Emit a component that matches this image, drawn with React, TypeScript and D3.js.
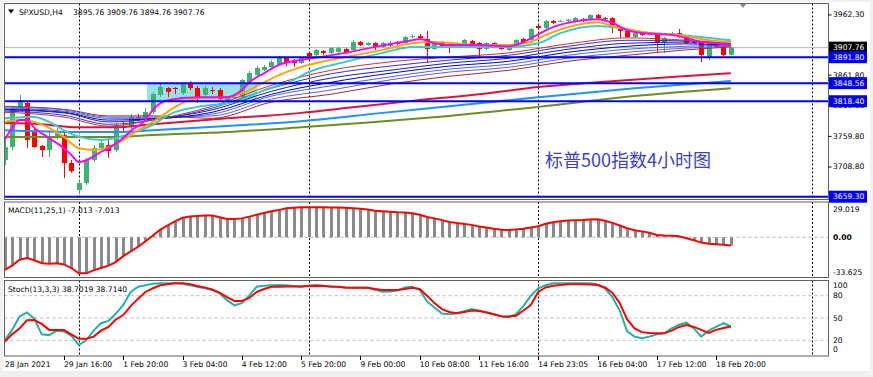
import React from "react";
import * as d3 from "d3";

// ---------------- DATA ----------------
const timeLabels = ["28 Jan 2021", "29 Jan 16:00", "1 Feb 20:00", "3 Feb 04:00", "4 Feb 12:00", "5 Feb 20:00", "9 Feb 00:00", "10 Feb 08:00", "11 Feb 16:00", "14 Feb 23:05", "16 Feb 04:00", "17 Feb 12:00", "18 Feb 20:00"];
const timeLabelBars = [0, 8, 16, 24, 32, 40, 48, 56, 64, 72, 80, 88, 96];
const separatorBars = [10, 41, 72, 109];

const opens = [
  3720.5, 3742, 3807, 3815.5, 3767, 3744, 3737, 3757, 3762, 3715.5,
  3670.5, 3682, 3720.5, 3740.5, 3745.5, 3737, 3775.5, 3775.5, 3792, 3790.5,
  3800.5, 3829, 3840.5, 3840.5, 3832, 3849, 3840.5, 3829, 3837, 3837,
  3820.5, 3823.8, 3825.5, 3850.5, 3862, 3870.5, 3875.5, 3878.8, 3890.5, 3887,
  3882, 3898.8, 3895.5, 3902, 3898.8, 3900.5, 3905.5, 3903.8, 3917, 3912,
  3915.5, 3908.8, 3910.5, 3917, 3915.5, 3925.5, 3927, 3922, 3905.5, 3917,
  3910.5, 3912, 3912, 3918.8, 3915.5, 3905.5, 3915.5, 3908.8, 3903.8, 3908.8,
  3922, 3920.5, 3943.8, 3940.5, 3952, 3951, 3952, 3950.5, 3955.5, 3953.8,
  3962, 3957, 3957, 3940.5, 3935.5, 3925.5, 3932, 3928.8, 3928.8, 3915.5,
  3928.8, 3932, 3927, 3917, 3917, 3892, 3917, 3908.8, 3895.76,
];
const highs = [
  3754, 3810.5, 3829, 3819, 3774, 3745.5, 3770.5, 3774, 3765.5, 3720.5,
  3688.8, 3724, 3745.5, 3755.5, 3754, 3782, 3784, 3797, 3797, 3807,
  3834, 3847, 3842, 3842, 3850.5, 3852, 3843.8, 3843.8, 3842, 3840.5,
  3827, 3829, 3855.5, 3868.8, 3877, 3878.8, 3887, 3893.8, 3892, 3888.8,
  3892, 3900.5, 3905.5, 3903.8, 3908.8, 3908.8, 3907, 3920.5, 3918.8, 3917,
  3917, 3917, 3918.8, 3918.8, 3927, 3930.5, 3930.5, 3935.5, 3918.8, 3918.8,
  3912, 3917, 3922, 3920.5, 3917, 3917, 3917, 3910.5, 3913.8, 3922,
  3923.8, 3940.5, 3947, 3953.8, 3953.8, 3953.8, 3955.5, 3958.8, 3957, 3963.8,
  3963.8, 3958.8, 3958.8, 3942, 3937, 3933.8, 3933.8, 3932, 3930.5, 3925.5,
  3933.8, 3938.8, 3928.8, 3918.8, 3918.8, 3917, 3918.8, 3910.5, 3909.76,
];
const lows = [
  3712, 3737, 3804, 3740.5, 3740.5, 3725.5, 3725.5, 3754, 3690.5, 3699,
  3665.5, 3679, 3717, 3737, 3724, 3734, 3765.5, 3772, 3785.5, 3787,
  3797, 3825.5, 3825.5, 3830.5, 3829, 3837, 3815.5, 3825.5, 3830.5, 3820.5,
  3819, 3822, 3823.8, 3848.8, 3860.5, 3868.8, 3873.8, 3877, 3877, 3875.5,
  3880.5, 3892, 3893.8, 3895.5, 3897, 3898.8, 3897, 3902, 3910.5, 3910.5,
  3903.8, 3907, 3908.8, 3912, 3913.8, 3923.8, 3920.5, 3882, 3903.8, 3907,
  3898.8, 3910.5, 3910.5, 3910.5, 3892, 3903.8, 3907, 3903.8, 3902, 3907,
  3913.8, 3918.8, 3937, 3938.8, 3947, 3950.5, 3950.5, 3948.8, 3950.5, 3952,
  3955.5, 3953.8, 3932, 3923.8, 3923.8, 3923.8, 3927, 3927, 3898.8, 3898.8,
  3927, 3923.8, 3913.8, 3913.8, 3883.8, 3887, 3907, 3893.8, 3894.76,
];
const closes = [
  3742, 3804, 3820.5, 3754, 3742, 3737, 3759, 3765.5, 3715.5, 3702,
  3682, 3720.5, 3740.5, 3749, 3735.5, 3779, 3774, 3792, 3790.5, 3800.5,
  3830.5, 3842, 3834, 3839, 3849, 3840.5, 3825.5, 3840.5, 3835.5, 3822,
  3825.5, 3825.5, 3853.8, 3865.5, 3873.8, 3875.5, 3883.8, 3892, 3883.8, 3882,
  3890.5, 3893.8, 3903.8, 3898.8, 3907, 3907, 3898.8, 3917, 3912, 3915.5,
  3908.8, 3915.5, 3915.5, 3913.8, 3925.5, 3927, 3923.8, 3905.5, 3917, 3908.8,
  3908.8, 3915.5, 3920.5, 3912, 3905.5, 3915.5, 3908.8, 3905.5, 3912, 3920.5,
  3915.5, 3938.8, 3940.5, 3952, 3948.8, 3952, 3954.5, 3957, 3952, 3962,
  3957, 3956, 3940.5, 3935.5, 3925.5, 3932, 3928.8, 3930.5, 3915.5, 3923.8,
  3932, 3925.5, 3915.5, 3916, 3895.5, 3915.5, 3908.8, 3895.5, 3907.76,
];

// moving averages: [bar, price]
const maMagenta: [number, number][] = [
  [0, 3754], [1, 3774], [2, 3787], [3, 3787], [4, 3774], [6, 3757], [8, 3740], [9, 3729], [10, 3717], [11, 3720],
  [13, 3734], [14, 3740], [16, 3757], [17, 3769], [19, 3787], [20, 3804], [22, 3820], [26, 3825], [30, 3825], [32, 3837],
  [33, 3850], [35, 3865], [37, 3879], [41, 3889], [46, 3899], [50, 3909], [55, 3920], [56, 3922], [58, 3915], [60, 3912],
  [64, 3912], [68, 3910], [70, 3917], [72, 3930], [74, 3942], [76, 3949], [80, 3955], [82, 3949], [84, 3937], [86, 3932],
  [90, 3929], [92, 3924], [94, 3917], [96, 3915], [98, 3912],
];
const maOrange: [number, number][] = [
  [0, 3784], [2, 3787], [4, 3784], [6, 3774], [8, 3759], [10, 3740], [12, 3737], [14, 3742], [16, 3754], [18, 3770],
  [20, 3784], [21, 3792], [23, 3809], [26, 3824], [30, 3825], [33, 3837], [35, 3850], [37, 3862], [41, 3879], [46, 3892],
  [51, 3904], [55, 3915], [58, 3917], [64, 3912], [68, 3912], [71, 3917], [73, 3929], [77, 3945], [80, 3950], [82, 3944],
  [87, 3932], [91, 3929], [95, 3920], [98, 3917],
];
const maCyan: [number, number][] = [
  [0, 3790], [4, 3792], [6, 3784], [8, 3770], [10, 3759], [13, 3754], [15, 3757], [17, 3765], [20, 3779], [22, 3795],
  [26, 3809], [31, 3817], [35, 3837], [39, 3854], [41, 3867], [46, 3884], [51, 3899], [55, 3909], [60, 3909], [68, 3909],
  [72, 3915], [75, 3932], [80, 3944], [82, 3942], [87, 3932], [91, 3929], [98, 3920],
];
const maCrimson: [number, number][] = [
  [0, 3782], [5, 3780], [10, 3775], [15, 3775], [20, 3780], [25, 3785], [30, 3790], [35, 3794], [40, 3799], [46, 3807],
  [55, 3819], [64, 3830], [72, 3842], [80, 3850], [90, 3859], [98, 3865],
];
const maBlue: [number, number][] = [
  [0, 3770], [10, 3767], [15, 3767], [20, 3770], [30, 3777], [40, 3785], [51, 3799], [60, 3810], [72, 3825], [85, 3840], [98, 3852],
];
const maOlive: [number, number][] = [
  [0, 3759], [10, 3759], [15, 3759], [20, 3762], [30, 3767], [40, 3775], [50, 3784], [60, 3794], [72, 3809], [85, 3827], [98, 3840],
];

const ribbonBars = [0, 8, 14, 20, 28, 36, 44, 52, 60, 68, 76, 84, 92, 98];
const ribbon1 = [3800, 3792, 3777, 3787, 3810, 3845, 3870, 3884, 3892, 3899, 3914, 3924, 3920, 3915];
const ribbon2 = [3802, 3795, 3780, 3787, 3807, 3840, 3864, 3877, 3887, 3895, 3910, 3920, 3919, 3915];
const ribbon3 = [3804, 3799, 3784, 3789, 3804, 3835, 3857, 3870, 3882, 3890, 3905, 3915, 3917, 3914];
const ribbon4 = [3805, 3800, 3787, 3789, 3800, 3830, 3850, 3865, 3877, 3885, 3900, 3910, 3914, 3912];
const ribbon5 = [3807, 3802, 3790, 3790, 3797, 3827, 3844, 3859, 3872, 3880, 3895, 3905, 3910, 3912];
const ribbon6 = [3809, 3804, 3792, 3792, 3794, 3822, 3837, 3854, 3867, 3875, 3890, 3900, 3907, 3910];
const ribbon7 = [3810, 3805, 3794, 3794, 3790, 3817, 3830, 3847, 3860, 3870, 3885, 3895, 3904, 3909];

const hLevels = [3891.8, 3848.56, 3818.4, 3659.3];
const bidPrice = 3907.76;
const zoneBars = [19.2, 34.05];
const zonePrices = [3818.4, 3848.56];
const priceTicks = [3962.3, 3861.8, 3810.8, 3759.8, 3708.8];

const macd = [
  -27.6, -24, -19, -17.5, -19.5, -22, -22.5, -22, -23, -26,
  -30.5, -30.5, -28, -26, -24, -21, -16, -12, -8, -3.5,
  1.5, 6.5, 10, 13.5, 16.5, 17.5, 18, 18.5, 18.5, 17,
  15.5, 15.5, 16, 17.5, 19, 20.5, 22, 23, 24.5, 25,
  25.5, 25.4, 25.4, 25.4, 25.3, 25.2, 25, 24.6, 24.2, 23.5,
  22.5, 22, 21.6, 21.2, 21, 20.4, 19, 17.2, 16, 14.5,
  13, 12, 11.3, 10.5, 9.2, 8.3, 7.2, 6.3, 6.2, 6.5,
  7.2, 8.2, 9.3, 11.5, 12.8, 13.5, 14.3, 14.5, 14.6, 15,
  15.2, 14, 12.2, 10, 7.6, 6, 5, 3.8, 2, 1.5,
  1.3, 0.8, -0.8, -2.5, -4.5, -5.4, -5.8, -6.4, -7.013,
];
const stochK = [
  20, 34, 52, 57.6, 49, 28, 27, 33, 32, 26,
  13.7, 20, 33, 43, 46, 56, 67.5, 85, 92, 94,
  96, 96.6, 96.6, 96.6, 96, 94, 92, 90, 87.6, 83,
  74, 67, 70, 80, 92, 93.4, 94, 94.4, 94, 93,
  92, 93.5, 94.4, 93.5, 92, 91.5, 90.7, 90.7, 90.7, 90.5,
  88, 85.3, 85.5, 87, 91, 92, 88, 72, 64, 56,
  55, 56.3, 59, 62, 60, 57, 55, 52, 51, 55,
  66, 80, 90, 94, 96.6, 96.6, 96.6, 96.6, 96.6, 96.6,
  95, 90, 78, 60, 32, 25, 22.7, 25, 28, 29.4,
  36, 41, 43.7, 36, 25, 33, 38, 43, 38.7,
];
const stochD = [
  18, 28, 36, 47, 47.3, 42, 34, 34, 34, 28,
  22, 22, 25, 33, 38, 48, 54, 66, 76, 85,
  90, 94, 95.5, 96.6, 96.6, 95.5, 93, 91, 88.5, 84,
  78, 73, 73, 77, 85, 89, 92, 92, 92.5, 92.5,
  92.5, 93, 93.4, 93, 92.5, 92, 91, 90.7, 90.7, 90.7,
  89, 87.6, 87.6, 87.6, 89, 90.7, 89, 80, 70, 62,
  58, 56.3, 58, 60, 59.5, 57.6, 55, 52.5, 52, 53,
  60, 67.5, 85, 91, 93.4, 94.5, 95.3, 95.3, 95.3, 95,
  94.4, 91, 84, 70, 48, 36, 31, 30, 29.5, 29.4,
  33, 38, 40.6, 38, 34, 30, 34, 36.5, 38.7,
];
const stochLevels = [80, 50, 20];

// ---------------- CHART ----------------
const FONT = "DejaVu Sans";
const FS = 7.6;
const LEFT = 4.5;
const RIGHT = 828.5;
const MAIN = [3.5, 199.5];
const MACDP = [202, 277.5];
const STOCHP = [280.5, 356];

export default function App() {
  const x = d3.scaleLinear().domain([0, 98]).range([4.7, 730.9]);
  const yMain = d3.scaleLinear().domain([3653.8, 3982.13]).range([200, 3]);
  const yMacd = d3.scaleLinear().domain([-33.625, 29.019]).range([277, 203]);
  const yStoch = d3.scaleLinear().domain([0, 100]).range([355.2, 280.8]);

  const maLine = d3
    .line<[number, number]>()
    .x((d) => x(d[0]))
    .y((d) => yMain(d[1]))
    .curve(d3.curveMonotoneX);
  const ribbonPath = (vals: number[]) => maLine(ribbonBars.map((b, i) => [b, vals[i]] as [number, number])) || "";
  const macdLine = d3
    .line<number>()
    .x((_, i) => x(i))
    .y((d) => yMacd(d));
  const stochLine = d3
    .line<number>()
    .x((_, i) => x(i))
    .y((d) => yStoch(d));

  const ribbons: { v: number[]; c: string }[] = [
    { v: ribbon7, c: "#a52a2a" },
    { v: ribbon6, c: "#6a5acd" },
    { v: ribbon5, c: "#4169e1" },
    { v: ribbon4, c: "#0000cd" },
    { v: ribbon3, c: "#1c1cb8" },
    { v: ribbon2, c: "#3030e0" },
    { v: ribbon1, c: "#c83232" },
  ];

  const sepLines = (top: number, bottom: number, key: string) =>
    separatorBars.map((b) => (
      <line
        key={key + b}
        x1={Math.round(x(b)) + 0.5}
        x2={Math.round(x(b)) + 0.5}
        y1={top}
        y2={bottom}
        stroke="#000"
        strokeWidth={1}
        strokeDasharray="2,2"
      />
    ));

  const priceBoxes = [
    { p: bidPrice, bg: "#000000" },
    { p: hLevels[0], bg: "#0000ff" },
    { p: hLevels[1], bg: "#0000ff" },
    { p: hLevels[2], bg: "#0000ff" },
    { p: hLevels[3], bg: "#0000ff" },
  ];

  return (
    <svg
      width={873}
      height={377}
      style={{ position: "absolute", left: 0, top: 0, display: "block" }}
      fontFamily={FONT}
    >
      <defs>
        <clipPath id="clipMain">
          <rect x={LEFT} y={MAIN[0]} width={RIGHT - LEFT} height={MAIN[1] - MAIN[0]} />
        </clipPath>
        <clipPath id="clipMacd">
          <rect x={LEFT} y={MACDP[0]} width={RIGHT - LEFT} height={MACDP[1] - MACDP[0]} />
        </clipPath>
        <clipPath id="clipStoch">
          <rect x={LEFT} y={STOCHP[0]} width={RIGHT - LEFT} height={STOCHP[1] - STOCHP[0]} />
        </clipPath>
      </defs>
      <rect x={0} y={0} width={873} height={377} fill="#f0f0f0" />
      <rect x={3} y={2} width={867} height={369} fill="#ffffff" />

      {/* MAIN PANEL */}
      <g clipPath="url(#clipMain)">
        <rect
          x={x(zoneBars[0])}
          y={yMain(zonePrices[1])}
          width={x(zoneBars[1]) - x(zoneBars[0])}
          height={yMain(zonePrices[0]) - yMain(zonePrices[1])}
          fill="#98e0e6"
        />
        {sepLines(MAIN[0], MAIN[1], "m")}
        <line x1={LEFT} x2={RIGHT} y1={yMain(bidPrice)} y2={yMain(bidPrice)} stroke="#b4b4b4" strokeWidth={1} />
        {opens.map((o, i) => {
          const c = closes[i];
          const up = c >= o;
          const col = up ? "#3cb371" : "#ff0000";
          const cx = Math.round(x(i));
          const top = yMain(Math.max(o, c));
          const bot = yMain(Math.min(o, c));
          return (
            <g key={"c" + i}>
              <line x1={cx + 0.5} x2={cx + 0.5} y1={yMain(highs[i])} y2={yMain(lows[i])} stroke={col} strokeWidth={1} />
              <rect x={cx - 2} y={top} width={5} height={Math.max(1, bot - top)} fill={col} />
            </g>
          );
        })}
        {ribbons.map((r, i) => (
          <path key={"r" + i} d={ribbonPath(r.v)} fill="none" stroke={r.c} strokeWidth={1} />
        ))}
        <path d={maLine(maOlive) || ""} fill="none" stroke="#6b8e23" strokeWidth={2} />
        <path d={maLine(maBlue) || ""} fill="none" stroke="#1e90ff" strokeWidth={2} />
        <path d={maLine(maCrimson) || ""} fill="none" stroke="#dc143c" strokeWidth={2} />
        <path d={maLine(maCyan) || ""} fill="none" stroke="#40c8c8" strokeWidth={2} />
        <path d={maLine(maOrange) || ""} fill="none" stroke="#ffa500" strokeWidth={2} />
        <path d={maLine(maMagenta) || ""} fill="none" stroke="#ff00ff" strokeWidth={2} />
        {hLevels.map((p) => (
          <line key={"h" + p} x1={LEFT} x2={RIGHT} y1={yMain(p)} y2={yMain(p)} stroke="#0000ff" strokeWidth={2} />
        ))}
      </g>
      {/* header */}
      <path d="M8,9.5 L14,9.5 L11,13.5 Z" fill="#000" />
      <text x={19} y={12} fontSize={FS} dominantBaseline="central" fill="#000">SPXUSD,H4</text>
      {[opens[98], highs[98], lows[98], closes[98]].map((v, i) => (
        <text key={"hv" + i} x={73 + i * 33.4} y={12} fontSize={FS} dominantBaseline="central" fill="#000">
          {v.toFixed(2)}
        </text>
      ))}
      <text x={545} y={167} fontSize={18} fill="#3c3cdc" fontFamily="Noto Sans CJK SC">
        标普500指数4小时图
      </text>
      <path d="M739,3 L747,3 L743,8 Z" fill="#8c8c8c" />

      {/* MACD PANEL */}
      <g clipPath="url(#clipMacd)">
        {sepLines(MACDP[0], MACDP[1], "d")}
        <line x1={LEFT} x2={RIGHT} y1={yMacd(0)} y2={yMacd(0)} stroke="#b0b0b0" strokeDasharray="3,3" />
        {macd.map((v, i) => {
          const cx = Math.round(x(i));
          const y0 = yMacd(0);
          const y1 = yMacd(v);
          return <rect key={"mh" + i} x={cx - 1} y={Math.min(y0, y1)} width={3} height={Math.abs(y1 - y0)} fill="#8a8a8a" />;
        })}
        <path d={macdLine(macd) || ""} fill="none" stroke="#ff0000" strokeWidth={2} />
      </g>
      <text x={8} y={210} fontSize={FS} dominantBaseline="central" fill="#000">MACD(11,25,1) -7.013 -7.013</text>

      {/* STOCH PANEL */}
      <g clipPath="url(#clipStoch)">
        {sepLines(STOCHP[0], STOCHP[1], "s")}
        {stochLevels.map((l) => (
          <line key={"sl" + l} x1={LEFT} x2={RIGHT} y1={yStoch(l)} y2={yStoch(l)} stroke="#b8b8b8" strokeDasharray="3,3" />
        ))}
        <path d={stochLine(stochK) || ""} fill="none" stroke="#20b2aa" strokeWidth={2} />
        <path d={stochLine(stochD) || ""} fill="none" stroke="#ff0000" strokeWidth={2} />
      </g>
      <text x={8} y={289} fontSize={FS} dominantBaseline="central" fill="#000">Stoch(13,3,3) 38.7019 38.7140</text>

      {/* PANEL BORDERS */}
      <rect x={LEFT} y={MAIN[0]} width={RIGHT - LEFT} height={MAIN[1] - MAIN[0]} fill="none" stroke="#606060" />
      <rect x={LEFT} y={MACDP[0]} width={RIGHT - LEFT} height={MACDP[1] - MACDP[0]} fill="none" stroke="#606060" />
      <rect x={LEFT} y={STOCHP[0]} width={RIGHT - LEFT} height={STOCHP[1] - STOCHP[0]} fill="none" stroke="#606060" />

      {/* PRICE AXIS */}
      {priceTicks.map((p) => (
        <g key={"pt" + p}>
          <line x1={RIGHT} x2={RIGHT + 3} y1={yMain(p)} y2={yMain(p)} stroke="#000" />
          <text x={833} y={yMain(p)} fontSize={FS} dominantBaseline="central" fill="#000">
            {p.toFixed(2)}
          </text>
        </g>
      ))}
      {priceBoxes.map((b) => (
        <g key={"pb" + b.p}>
          <rect x={829} y={yMain(b.p) - 6} width={38} height={12} fill={b.bg} />
          <text x={833} y={yMain(b.p)} fontSize={FS} dominantBaseline="central" fill="#fff">
            {b.p.toFixed(2)}
          </text>
        </g>
      ))}

      {/* MACD AXIS */}
      <text x={833} y={yMacd(29.019) + 6} fontSize={FS} dominantBaseline="central">29.019</text>
      <text x={833} y={yMacd(0)} fontSize={FS} dominantBaseline="central" fontWeight="bold">0.00</text>
      <text x={833} y={yMacd(-33.625) - 5} fontSize={FS} dominantBaseline="central">-33.625</text>

      {/* STOCH AXIS */}
      <text x={833} y={yStoch(100) + 4.5} fontSize={FS} dominantBaseline="central">100</text>
      {stochLevels.map((l) => (
        <text key={"sa" + l} x={833} y={yStoch(l)} fontSize={FS} dominantBaseline="central">{l}</text>
      ))}
      <text x={833} y={yStoch(0) - 6} fontSize={FS} dominantBaseline="central">0</text>

      {/* TIME AXIS */}
      {timeLabelBars.map((b, i) => (
        <g key={"t" + b}>
          {i > 0 && <line x1={Math.round(x(b)) + 0.5} x2={Math.round(x(b)) + 0.5} y1={356} y2={360} stroke="#000" />}
          <text x={i === 0 ? 5 : x(b)} y={364.5} fontSize={FS} dominantBaseline="central" fill="#000">
            {timeLabels[i]}
          </text>
        </g>
      ))}
    </svg>
  );
}
